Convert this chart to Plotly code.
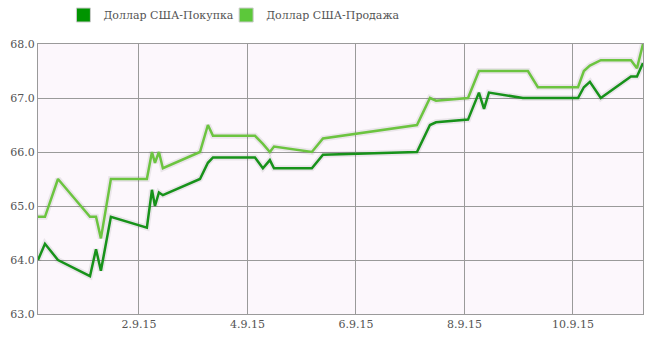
import plotly.graph_objects as go

times = [
    "2015-08-31 03:20", "2015-08-31 06:25", "2015-08-31 12:10",
    "2015-09-01 02:20", "2015-09-01 05:00", "2015-09-01 07:10", "2015-09-01 11:35",
    "2015-09-02 03:30", "2015-09-02 05:45", "2015-09-02 07:05", "2015-09-02 08:50", "2015-09-02 10:35",
    "2015-09-03 03:00", "2015-09-03 06:30", "2015-09-03 08:45",
    "2015-09-04 03:20", "2015-09-04 06:50", "2015-09-04 09:55", "2015-09-04 11:45",
    "2015-09-05 04:30", "2015-09-05 09:25",
    "2015-09-07 03:00", "2015-09-07 08:45", "2015-09-07 11:25",
    "2015-09-08 01:35", "2015-09-08 06:25", "2015-09-08 08:40", "2015-09-08 10:50",
    "2015-09-09 01:50", "2015-09-09 04:05", "2015-09-09 08:30",
    "2015-09-10 02:15", "2015-09-10 04:50", "2015-09-10 07:30", "2015-09-10 12:20",
    "2015-09-11 01:40", "2015-09-11 04:20", "2015-09-11 07:00",
]

buy = [
    64.0, 64.3, 64.0,
    63.7, 64.2, 63.8, 64.8,
    64.6, 65.3, 65.0, 65.25, 65.2,
    65.5, 65.8, 65.9,
    65.9, 65.7, 65.85, 65.7,
    65.7, 65.95,
    66.0, 66.5, 66.55,
    66.6, 67.1, 66.8, 67.1,
    67.0, 67.0, 67.0,
    67.0, 67.2, 67.3, 67.0,
    67.4, 67.4, 67.65,
]

sell = [
    64.8, 64.8, 65.5,
    64.8, 64.8, 64.4, 65.5,
    65.5, 66.0, 65.8, 66.0, 65.7,
    66.0, 66.5, 66.3,
    66.3, 66.15, 66.0, 66.1,
    66.0, 66.25,
    66.5, 67.0, 66.95,
    67.0, 67.5, 67.5, 67.5,
    67.5, 67.5, 67.2,
    67.2, 67.5, 67.6, 67.7,
    67.7, 67.55, 68.0,
]

names = ["Доллар США-Покупка", "Доллар США-Продажа"]
line_colors = ["#17921a", "#6cc440"]
legend_colors = ["#009400", "#5cc83a"]
legend_ids = ["legend", "legend2"]
y_ticks = [63.0, 64.0, 65.0, 66.0, 67.0, 68.0]
x_ticks = ["2015-09-02", "2015-09-04", "2015-09-06", "2015-09-08", "2015-09-10"]
x_labels = ["2.9.15", "4.9.15", "6.9.15", "8.9.15", "10.9.15"]

fig = go.Figure()
series = [buy, sell]
# soft shadows
for vals in series:
    fig.add_trace(go.Scatter(x=times, y=vals, mode="lines", showlegend=False,
                             hoverinfo="skip",
                             line=dict(color="rgba(0,0,0,0.07)", width=6)))
for vals, name, col in zip(series, names, line_colors):
    fig.add_trace(go.Scatter(x=times, y=vals, mode="lines", name=name,
                             showlegend=False,
                             line=dict(color=col, width=2.5)))
# legend entries (boxes)
for name, col, lg in zip(names, legend_colors, legend_ids):
    fig.add_trace(go.Scatter(x=[None], y=[None], mode="markers", name=name,
                             legend=lg,
                             marker=dict(symbol="square", size=14, color=col,
                                         line=dict(color="#cccccc", width=1))))

font = dict(family="DejaVu Serif", size=11, color="#545454")
legend_font = dict(family="DejaVu Serif", size=11, color="#545454")
common_legend = dict(orientation="h", xanchor="left", y=1.161, yanchor="top",
                     font=legend_font, bgcolor="rgba(0,0,0,0)", itemwidth=30)
fig.update_layout(
    width=670, height=348,
    margin=dict(l=38, r=27, t=44, b=34, autoexpand=False),
    paper_bgcolor="white",
    plot_bgcolor="#fcf7fc",
    font=font,
    showlegend=True,
    legend=dict(x=0.042, **common_legend),
    legend2=dict(x=0.311, **common_legend),
    xaxis=dict(
        type="date",
        range=[times[0], times[-1]],
        tickvals=x_ticks, ticktext=x_labels,
        showgrid=True, gridcolor="#9a9a9a", gridwidth=1,
        showline=True, linecolor="#9a9a9a", linewidth=1, mirror=True,
        ticks="", zeroline=False, tickfont=font,
    ),
    yaxis=dict(
        range=[63.0, 68.0],
        tickvals=y_ticks, tickformat=".1f",
        showgrid=True, gridcolor="#9a9a9a", gridwidth=1,
        showline=True, linecolor="#9a9a9a", linewidth=1, mirror=True,
        ticks="", zeroline=False, tickfont=font,
    ),
)

fig.write_html("out.html")
